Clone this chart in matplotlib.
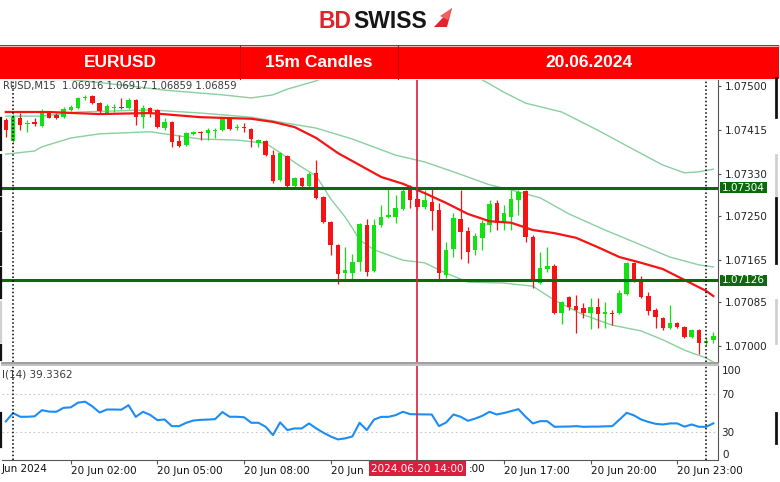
import matplotlib
matplotlib.use("Agg")
import matplotlib.pyplot as plt
import matplotlib.transforms as mtransforms
from matplotlib.patches import Rectangle, Polygon
import numpy as np

# ---------------- data ----------------
bar_index = list(range(-1, 98))   # 15-minute bars counted from 20 Jun 00:00

open_ = [1.07435, 1.07394, 1.07438, 1.07427, 1.07431, 1.07423, 1.07448, 1.07444, 1.07440, 1.07454,
         1.07458, 1.07477, 1.07481, 1.07467, 1.07448, 1.07458, 1.07460, 1.07458, 1.07473, 1.07440,
         1.07458, 1.07454, 1.07419, 1.07431, 1.07394, 1.07387, 1.07408, 1.07412, 1.07410, 1.07413,
         1.07415, 1.07438, 1.07419, 1.07421, 1.07417, 1.07390, 1.07394, 1.07367, 1.07319, 1.07365,
         1.07308, 1.07323, 1.07308, 1.07333, 1.07287, 1.07238, 1.07194, 1.07140, 1.07140, 1.07162,
         1.07233, 1.07144, 1.07233, 1.07248, 1.07248, 1.07263, 1.07300, 1.07283, 1.07267, 1.07277,
         1.07262, 1.07137, 1.07187, 1.07244, 1.07221, 1.07185, 1.07208, 1.07233, 1.07275, 1.07238,
         1.07248, 1.07281, 1.07298, 1.07210, 1.07121, 1.07148, 1.07154, 1.07063, 1.07094, 1.07077,
         1.07073, 1.07063, 1.07075, 1.07062, 1.07063, 1.07063, 1.07100, 1.07160, 1.07127, 1.07096,
         1.07069, 1.07054, 1.07035, 1.07044, 1.07037, 1.07017, 1.07031, 1.07006, 1.07012]
high = [1.07438, 1.07446, 1.07448, 1.07435, 1.07438, 1.07456, 1.07452, 1.07448, 1.07460, 1.07463,
        1.07479, 1.07483, 1.07483, 1.07469, 1.07465, 1.07465, 1.07477, 1.07477, 1.07475, 1.07463,
        1.07460, 1.07456, 1.07438, 1.07433, 1.07406, 1.07412, 1.07413, 1.07413, 1.07419, 1.07419,
        1.07440, 1.07440, 1.07427, 1.07429, 1.07419, 1.07398, 1.07396, 1.07377, 1.07373, 1.07367,
        1.07325, 1.07325, 1.07335, 1.07358, 1.07288, 1.07240, 1.07196, 1.07190, 1.07177, 1.07237,
        1.07244, 1.07244, 1.07271, 1.07304, 1.07290, 1.07302, 1.07310, 1.07300, 1.07300, 1.07304,
        1.07275, 1.07200, 1.07256, 1.07300, 1.07229, 1.07217, 1.07242, 1.07281, 1.07281, 1.07271,
        1.07300, 1.07300, 1.07300, 1.07213, 1.07181, 1.07190, 1.07158, 1.07087, 1.07096, 1.07098,
        1.07083, 1.07092, 1.07092, 1.07085, 1.07069, 1.07108, 1.07162, 1.07162, 1.07135, 1.07104,
        1.07073, 1.07056, 1.07079, 1.07046, 1.07038, 1.07033, 1.07033, 1.07015, 1.07027]
low = [1.07402, 1.07392, 1.07415, 1.07412, 1.07423, 1.07421, 1.07438, 1.07437, 1.07438, 1.07452,
       1.07456, 1.07473, 1.07465, 1.07448, 1.07446, 1.07450, 1.07456, 1.07456, 1.07425, 1.07419,
       1.07440, 1.07419, 1.07415, 1.07383, 1.07383, 1.07385, 1.07406, 1.07396, 1.07396, 1.07400,
       1.07413, 1.07415, 1.07415, 1.07412, 1.07383, 1.07383, 1.07365, 1.07313, 1.07317, 1.07306,
       1.07302, 1.07306, 1.07306, 1.07283, 1.07237, 1.07175, 1.07119, 1.07129, 1.07129, 1.07144,
       1.07135, 1.07142, 1.07229, 1.07246, 1.07237, 1.07262, 1.07265, 1.07262, 1.07263, 1.07223,
       1.07125, 1.07131, 1.07171, 1.07167, 1.07160, 1.07175, 1.07185, 1.07219, 1.07223, 1.07223,
       1.07223, 1.07252, 1.07200, 1.07112, 1.07119, 1.07142, 1.07062, 1.07042, 1.07069, 1.07025,
       1.07054, 1.07033, 1.07035, 1.07035, 1.07040, 1.07062, 1.07098, 1.07123, 1.07092, 1.07060,
       1.07035, 1.07031, 1.07033, 1.07035, 1.07015, 1.07015, 1.06985, 1.07002, 1.07006]
close = [1.07415, 1.07440, 1.07425, 1.07429, 1.07427, 1.07448, 1.07438, 1.07438, 1.07456, 1.07460,
         1.07477, 1.07479, 1.07467, 1.07452, 1.07462, 1.07460, 1.07458, 1.07473, 1.07440, 1.07458,
         1.07450, 1.07421, 1.07431, 1.07392, 1.07385, 1.07410, 1.07412, 1.07410, 1.07415, 1.07415,
         1.07438, 1.07417, 1.07421, 1.07419, 1.07398, 1.07396, 1.07367, 1.07317, 1.07371, 1.07308,
         1.07323, 1.07308, 1.07331, 1.07285, 1.07238, 1.07194, 1.07138, 1.07146, 1.07162, 1.07235,
         1.07142, 1.07233, 1.07248, 1.07252, 1.07265, 1.07298, 1.07281, 1.07267, 1.07281, 1.07260,
         1.07140, 1.07185, 1.07246, 1.07219, 1.07181, 1.07212, 1.07237, 1.07273, 1.07237, 1.07256,
         1.07283, 1.07296, 1.07210, 1.07123, 1.07150, 1.07154, 1.07063, 1.07085, 1.07075, 1.07069,
         1.07063, 1.07075, 1.07062, 1.07065, 1.07062, 1.07102, 1.07160, 1.07127, 1.07094, 1.07067,
         1.07056, 1.07035, 1.07044, 1.07037, 1.07017, 1.07031, 1.07006, 1.07010, 1.07019]

# moving average (red) read at sample bars
ma_bar = [-1, 5, 12, 19, 26, 33, 36, 39, 42, 45, 48, 51, 54, 57, 60, 63, 66, 69, 72, 75, 78, 81, 84, 87, 90, 93, 96, 97]
ma_val = [1.07450, 1.07450, 1.07446, 1.07448, 1.07440, 1.07437, 1.07431, 1.07421, 1.07400, 1.07371,
          1.07348, 1.07325, 1.07312, 1.07294, 1.07275, 1.07254, 1.07240, 1.07237, 1.07223, 1.07217,
          1.07208, 1.07190, 1.07171, 1.07160, 1.07148, 1.07127, 1.07106, 1.07096]

# Bollinger bands (light green) read at sample bars
bb_up_bar = [-1, 9, 15, 21, 29, 33, 36, 38, 42, 45, 63, 66, 68, 71, 76, 81, 85, 90, 93, 95, 97]
bb_up = [1.07525, 1.07511, 1.07502, 1.07492, 1.07483, 1.07477, 1.07483, 1.07494, 1.07510, 1.07527,
         1.07527, 1.07504, 1.07488, 1.07467, 1.07450, 1.07415, 1.07385, 1.07348, 1.07333, 1.07335, 1.07340]
bb_mid_bar = [-1, 4, 9, 19, 26, 33, 42, 47, 53, 57, 61, 66, 69, 73, 77, 82, 86, 91, 95, 97]
bb_mid = [1.07442, 1.07442, 1.07450, 1.07454, 1.07448, 1.07440, 1.07419, 1.07398, 1.07367, 1.07354,
          1.07335, 1.07310, 1.07300, 1.07285, 1.07254, 1.07223, 1.07200, 1.07171, 1.07156, 1.07152]
bb_low_bar = [-1, 3, 4, 8, 12, 19, 26, 31, 35, 40, 42, 44, 46, 47, 48, 50, 54, 57, 60, 63,
              68, 72, 75, 79, 83, 87, 90, 93, 96, 97]
bb_low = [1.07369, 1.07375, 1.07383, 1.07400, 1.07408, 1.07412, 1.07398, 1.07396, 1.07390, 1.07344,
          1.07327, 1.07283, 1.07248, 1.07227, 1.07204, 1.07185, 1.07165, 1.07160, 1.07140, 1.07123,
          1.07121, 1.07115, 1.07088, 1.07060, 1.07040, 1.07029, 1.07012, 1.06992, 1.06977, 1.06969]

# RSI(14), one value per bar
rsi = [41, 50, 46, 46, 46.5, 53, 51.5, 51.3, 55.5, 56, 61, 62, 57, 50.5, 53.7, 53.7, 53.5, 58.3, 45.9, 51.3,
       48, 42.4, 43.1, 36, 36, 39.6, 42, 42.7, 43, 43.5, 51, 46, 46, 45.5, 39.6, 39.6, 35.3, 26.5, 40, 31.8,
       33.6, 33.6, 38.9, 33.6, 29, 25, 21.9, 23, 25, 39.6, 31.8, 43, 45.9, 45.9, 47.7, 51.3, 48.8, 48.6, 48.5,
       48.4, 36, 40, 48.4, 46, 41.7, 44, 47, 51.3, 48.4, 50, 52, 54.1, 46, 38.9, 41.3, 41.3, 35.3, 35.5, 35.6,
       36, 35.3, 35.5, 35.5, 35.8, 36, 43, 50.2, 47.5, 43.1, 40.5, 38.5, 37.8, 38.9, 38.9, 35.5, 37.8, 35.3,
       35.3, 39]

support_levels = [1.07304, 1.07126]
price_ticks = [1.07500, 1.07415, 1.07330, 1.07250, 1.07165, 1.07085, 1.07000]
time_tick_bars = [8, 20, 32, 44, 56, 68, 80, 92]
# visible parts of the time labels (the 11:00 / 14:00 labels are partly hidden by the cursor box)
time_tick_labels = ["20 Jun 02:00", "20 Jun 05:00", "20 Jun 08:00", "20 Jun",
                    "", "20 Jun 17:00", "20 Jun 20:00", "20 Jun 23:00"]
hidden_label_tail = ":00"
first_time_label = "Jun 2024"
cursor_bar = 56
cursor_label = "2024.06.20 14:00"
day_sep_bars = [0, 96]
rsi_levels = [30, 70]
rsi_title = "I(14) 39.3362"
price_title = "RUSD,M15  1.06916 1.06917 1.06859 1.06859"
header_cells = ["EURUSD", "15m Candles", "20.06.2024"]

# ---------------- styling ----------------
GREEN = "#14E014"
RED = "#F51414"
BAND = "#8ACFA0"
LEVEL = "#0B6A0B"
CURSOR = "#DC1E3C"
MTFONT = "DejaVu Sans"
HFONT = "Liberation Sans"

W, H = 780, 482
fig = plt.figure(figsize=(7.8, 4.82), dpi=100)
fig.patch.set_facecolor("white")

def fx(px):
    return px / W

def fy(py):
    return 1 - py / H

XL, XR = 2, 718
ax = fig.add_axes([fx(XL), fy(362), fx(XR) - fx(XL), fy(80) - fy(362)])
rx = fig.add_axes([fx(XL), fy(460), fx(XR) - fx(XL), fy(366) - fy(460)])

px_per_bar = 7.22
x0 = (XL - 13) / px_per_bar
x1 = (XR - 13) / px_per_bar
for a in (ax, rx):
    a.set_xlim(x0, x1)
    a.set_facecolor("white")

ax.set_ylim(1.075 - (362 - 86) / 52000, 1.075 + (86 - 80) / 52000)
rx.set_ylim(0, 100)

# ---- candles ----
t = np.array(bar_index, dtype=float)
o = np.array(open_); h = np.array(high); l = np.array(low); c = np.array(close)
up = c >= o
cols = np.where(up, GREEN, RED)
ax.vlines(t, l, h, colors=cols, lw=0.9, zorder=3)
bot = np.minimum(o, c)
hgt = np.abs(c - o)
mn = 0.00002
bot = np.where(hgt < mn, (o + c) / 2 - mn / 2, bot)
hgt = np.maximum(hgt, mn)
ax.bar(t, hgt, bottom=bot, width=0.62, color=cols, edgecolor="none", zorder=4)

# ---- indicator lines ----
ax.plot(bb_up_bar, bb_up, color=BAND, lw=1.0, zorder=2)
ax.plot(bb_mid_bar, bb_mid, color=BAND, lw=1.0, zorder=2)
ax.plot(bb_low_bar, bb_low, color=BAND, lw=1.0, zorder=2)
ax.plot(ma_bar, ma_val, color=RED, lw=1.6, zorder=5)

for lv in support_levels:
    ax.axhline(lv, color=LEVEL, lw=2.2, zorder=6)

for a in (ax, rx):
    for b in day_sep_bars:
        a.axvline(b, color="black", lw=1.1, ls=(0, (1, 1.5)), zorder=7)
    a.axvline(cursor_bar, color=CURSOR, lw=1.2, zorder=7)

# ---- main axis styling ----
for s in ("top", "left", "bottom"):
    ax.spines[s].set_visible(False)
ax.spines["right"].set_color("#555555")
ax.yaxis.tick_right()
ax.set_yticks(price_ticks)
ax.set_yticklabels([f"{v:.5f}" for v in price_ticks], fontsize=7.5, family=MTFONT, color="#222222")
ax.tick_params(axis="y", direction="out", length=2.5, width=0.8, color="#555555", pad=2.5)
ax.set_xticks([])

blend = mtransforms.blended_transform_factory(ax.transAxes, ax.transData)
for lv in support_levels:
    ax.add_patch(Rectangle((1.0025, lv - 0.000106), 0.066, 0.000212, transform=blend,
                           facecolor=LEVEL, edgecolor="none", clip_on=False, zorder=8))
    ax.text(1.0025 + 0.033, lv, f"{lv:.5f}", transform=blend, ha="center", va="center",
            fontsize=7.5, family=MTFONT, color="white", clip_on=False, zorder=9)

# ---- RSI panel ----
rx.plot(bar_index, rsi, color="#1E8CF5", lw=1.5, zorder=5)
for lv in rsi_levels:
    rx.axhline(lv, color="#C8C8C8", lw=0.8, ls=(0, (1.5, 2.5)), zorder=1)
rx.spines["top"].set_visible(False)
rx.spines["left"].set_visible(False)
rx.spines["right"].set_color("#555555")
rx.spines["bottom"].set_color("#555555")
rx.yaxis.tick_right()
rx.set_yticks(rsi_levels)
rx.set_yticklabels([str(v) for v in rsi_levels], fontsize=7.5, family=MTFONT, color="#222222")
rx.tick_params(axis="y", length=0, pad=2)
rblend = mtransforms.blended_transform_factory(rx.transAxes, rx.transData)
rx.text(1.006, 100, "100", transform=rblend, ha="left", va="top", fontsize=7.5,
        family=MTFONT, color="#222222", clip_on=False)
rx.text(1.006, 0, "0", transform=rblend, ha="left", va="bottom", fontsize=7.5,
        family=MTFONT, color="#222222", clip_on=False)
rx.set_xticks(time_tick_bars)
rx.set_xticklabels(time_tick_labels, ha="left", fontsize=7.5, family=MTFONT, color="#111111")
rx.tick_params(axis="x", direction="out", length=3, width=0.8, color="#555555", pad=1.5)

xblend = mtransforms.blended_transform_factory(rx.transData, rx.transAxes)
rx.text(cursor_bar, -0.092, cursor_label, transform=xblend, ha="center", va="center",
        fontsize=7.5, family=MTFONT, color="white", clip_on=False, zorder=20,
        bbox=dict(boxstyle="square,pad=0.22", facecolor=CURSOR, edgecolor="none"))
tail_tr = mtransforms.offset_copy(xblend, fig=fig, x=51, y=0, units="dots")
rx.text(cursor_bar, -0.092, hidden_label_tail, transform=tail_tr, ha="left", va="center",
        fontsize=7.5, family=MTFONT, color="#111111", clip_on=False)

# ---------------- overlay: header, logo, frame details ----------------
ov = fig.add_axes([0, 0, 1, 1], zorder=10)
ov.set_xlim(0, W)
ov.set_ylim(H, 0)
ov.axis("off")
ov.patch.set_visible(False)

# logo
ov.text(319, 28, "BD", fontsize=16.5, fontweight="bold", family=HFONT, color="#E3232B", va="baseline")
ov.text(353, 28, "SWISS", fontsize=16.5, fontweight="bold", family=HFONT, color="#161616", va="baseline")
ov.add_patch(Polygon([(434, 27), (452, 8), (447, 27)], closed=True, facecolor="#E3232B", edgecolor="none"))
ov.add_patch(Polygon([(440, 16), (452, 8), (448, 20)], closed=True, facecolor="#F06060", edgecolor="none"))

# header bar
ov.add_patch(Rectangle((0, 45), 779, 34, facecolor="#FF0000", edgecolor="none"))
ov.plot([0, 779], [45.5, 45.5], color="#F2B0B0", lw=0.8)
for xs in (240, 398):
    ov.plot([xs, xs], [45, 79], color="#D20000", lw=0.8)
cell_centers = [120, 319, 589]
for txt, cx in zip(header_cells, cell_centers):
    ov.text(cx, 62.5, txt, fontsize=12.5, fontweight="bold", family=HFONT, color="white",
            ha="center", va="center")

# panel titles
ov.text(3, 86.5, price_title, fontsize=7.2, family=MTFONT, color="#3A3A3A", va="center", ha="left")
ov.text(2, 374.5, rsi_title, fontsize=7.5, family=MTFONT, color="#3A3A3A", va="center", ha="left")
ov.text(2, 469, first_time_label, fontsize=7.5, family=MTFONT, color="#111111", va="center", ha="left")

# separator between panels
ov.plot([XL, XR], [362.6, 362.6], color="#8C8C8C", lw=1.2)
ov.plot([XL, XR], [365.0, 365.0], color="#B8B8B8", lw=1.2)

# window border fragments
for y0, y1 in [(118, 150), (155, 195), (198, 230), (233, 265), (268, 298), (345, 360), (413, 447)]:
    ov.plot([0.8, 0.8], [y0, y1], color="#111111", lw=1.6)
ov.plot([0.8, 0.8], [302, 342], color="#D0D0D0", lw=1.6)
for y0, y1 in [(78, 117), (198, 263), (413, 443)]:
    ov.plot([776, 776], [y0, y1], color="#111111", lw=2.0)
for y0, y1 in [(155, 195), (300, 343)]:
    ov.plot([776, 776], [y0, y1], color="#D0D0D0", lw=2.0)

fig.savefig("out.png", dpi=100)
